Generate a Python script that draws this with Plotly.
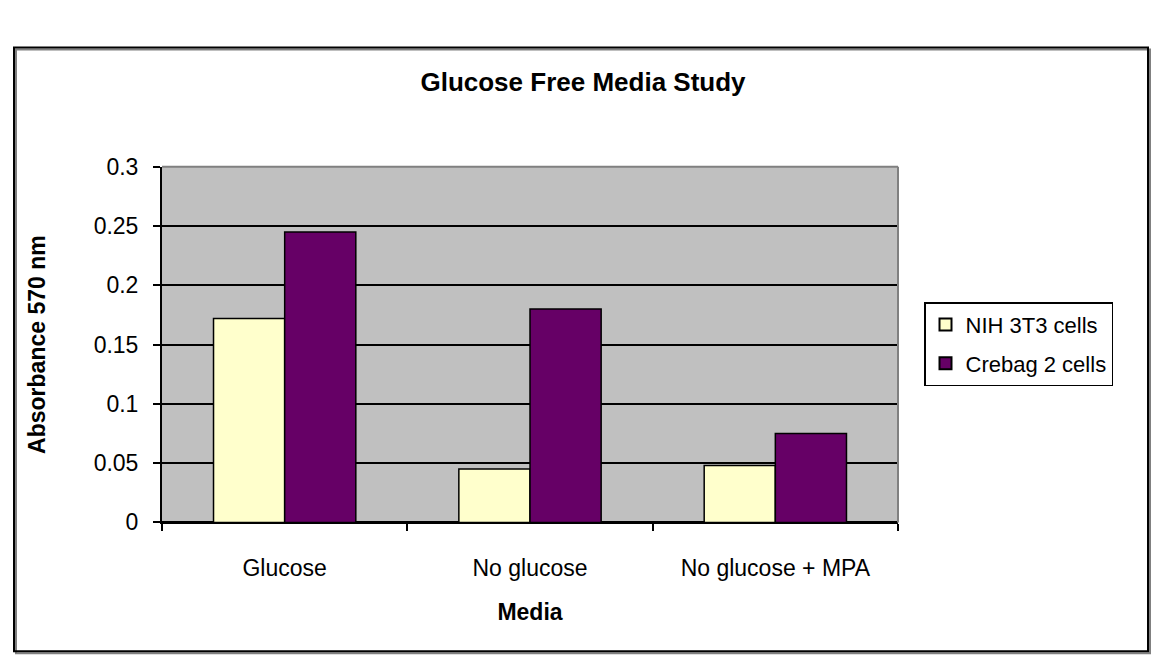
import plotly.graph_objects as go

# Data
media = ["Glucose", "No glucose", "No glucose + MPA"]
nih_3t3 = [0.172, 0.045, 0.048]
crebag_2 = [0.245, 0.180, 0.075]
series_names = ["NIH 3T3 cells", "Crebag 2 cells"]
y_tick_vals = [0, 0.05, 0.1, 0.15, 0.2, 0.25, 0.3]
y_tick_text = ["0", "0.05", "0.1", "0.15", "0.2", "0.25", "0.3"]

# Layout geometry (pixels)
W, H = 1152, 670
PL, PR, PT, PB = 162, 898, 160, 530
FONT = "Liberation Sans, Arial, sans-serif"


def px_x(v):
    return v / W


def px_y(v):
    return 1 - v / H


fig = go.Figure()
fig.add_trace(go.Bar(
    x=media, y=nih_3t3, name=series_names[0], legendgroup="a",
    marker=dict(color="#FFFFCC", line=dict(color="black", width=1.5)),
))
fig.add_trace(go.Bar(
    x=media, y=crebag_2, name=series_names[1], legendgroup="b",
    marker=dict(color="#660066", line=dict(color="black", width=1.5)),
))

fig.update_layout(
    width=W, height=H,
    margin=dict(l=0, r=0, t=0, b=0),
    paper_bgcolor="white",
    plot_bgcolor="#C0C0C0",
    barmode="group",
    bargap=0.42,
    bargroupgap=0,
    font=dict(family=FONT, color="black", size=23),
    title=dict(
        text="<b>Glucose Free Media Study</b>",
        x=px_x(583), xref="paper", xanchor="center",
        y=px_y(72), yref="paper", yanchor="middle",
        font=dict(family=FONT, size=26, color="black"),
    ),
    xaxis=dict(
        domain=[px_x(PL), px_x(PR)],
        showgrid=False,
        showline=True, linecolor="black", linewidth=2,
        ticks="outside", tickson="boundaries", ticklen=7,
        tickcolor="black", tickwidth=1.5,
        tickfont=dict(size=23),
        ticklabelstandoff=24,
        title=dict(text="<b>Media</b>", font=dict(size=23), standoff=24),
    ),
    yaxis=dict(
        domain=[px_y(PB), px_y(PT)],
        range=[0, 0.3],
        tickvals=y_tick_vals, ticktext=y_tick_text,
        showgrid=True, gridcolor="black", gridwidth=2,
        zeroline=True, zerolinecolor="black", zerolinewidth=2,
        showline=True, linecolor="black", linewidth=2,
        ticks="outside", ticklen=7, tickcolor="black", tickwidth=1.5,
        tickfont=dict(size=23),
        ticklabelstandoff=10,
        title=dict(text="<b>Absorbance 570 nm</b>", font=dict(size=23), standoff=42),
    ),
    legend=dict(
        x=px_x(924), xanchor="left",
        y=px_y(301), yanchor="top",
        bgcolor="white", bordercolor="black", borderwidth=1.5,
        font=dict(size=22, family=FONT),
        tracegroupgap=7,
        itemsizing="constant",
    ),
    showlegend=True,
)

# Chart frame with a soft shadow, plus grey top/right edges of the plot area
shapes = [
    dict(type="rect", xref="paper", yref="paper",
         x0=px_x(16), x1=px_x(1150), y0=px_y(666), y1=px_y(38),
         line=dict(color="#808080", width=2), layer="below"),
    dict(type="rect", xref="paper", yref="paper",
         x0=px_x(14), x1=px_x(1148), y0=px_y(664), y1=px_y(36),
         line=dict(color="black", width=2), fillcolor="rgba(0,0,0,0)"),
    dict(type="line", xref="paper", yref="paper",
         x0=px_x(PL), x1=px_x(PR), y0=px_y(PT), y1=px_y(PT),
         line=dict(color="#808080", width=2)),
    dict(type="line", xref="paper", yref="paper",
         x0=px_x(PR), x1=px_x(PR), y0=px_y(PT), y1=px_y(PB),
         line=dict(color="#808080", width=2)),
]
fig.update_layout(shapes=shapes)

fig.write_html("out.html")
